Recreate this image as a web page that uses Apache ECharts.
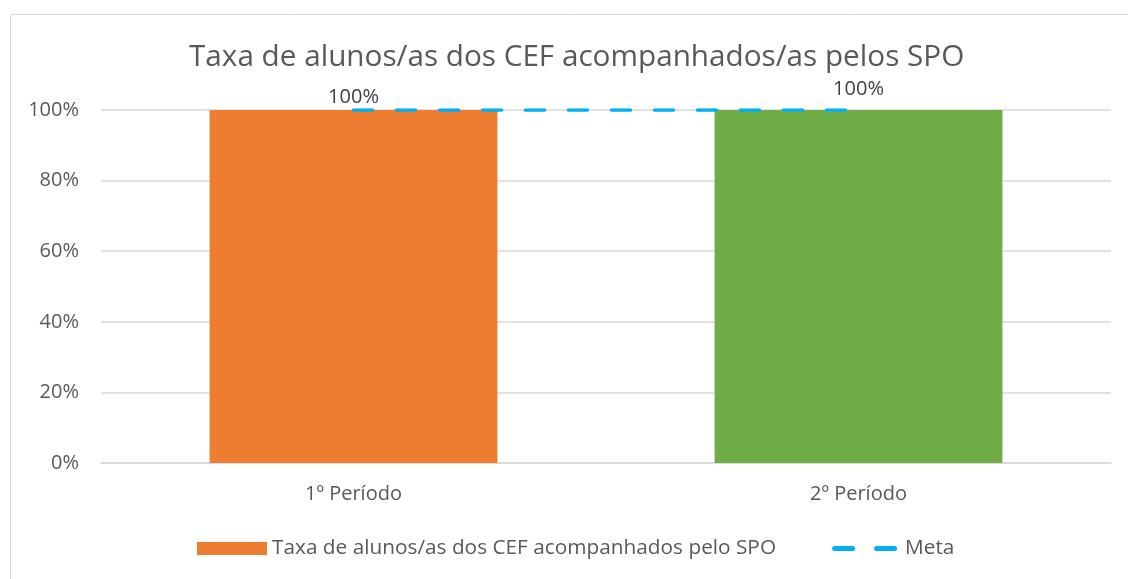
<!DOCTYPE html>
<html>
<head>
<meta charset="utf-8">
<script src="https://cdn.jsdelivr.net/npm/echarts@6/dist/echarts.min.js"></script>
<style>
  html, body { margin: 0; padding: 0; background: #fff; }
  #chart { width: 1128px; height: 579px; }
</style>
</head>
<body>
<div id="chart"></div>
<script>
  var categories = ['1º Período', '2º Período']
  var taxaValues = [100, 100]
  var metaValues = [100, 100]
  var yTicks = [0, 20, 40, 60, 80, 100]
  var barColors = ['#ED7D31', '#70AD47']

  var font = 'Open Sans'
  var textColor = '#595959'
  var metaColor = '#00B0F0'

  // two short dashes, with tiny corner marks so the icon box stays 70x13
  var metaIcon = 'path://M0,0h0.1v0.1h-0.1z M69.9,12.9h0.1v0.1h-0.1z' +
    'M4.5,4h18a2.5,2.5 0 0 1 0,5h-18a2.5,2.5 0 0 1 0,-5z' +
    'M46.5,4h18a2.5,2.5 0 0 1 0,5h-18a2.5,2.5 0 0 1 0,-5z'

  var chart = echarts.init(document.getElementById('chart'))

  var option = {
    animation: false,
    textStyle: { fontFamily: font },
    graphic: [{
      type: 'rect',
      shape: { x: 10.5, y: 14.5, width: 1130, height: 600 },
      style: { fill: 'none', stroke: '#d9d9d9', lineWidth: 1 },
      silent: true
    }],
    title: {
      text: 'Taxa de alunos/as dos CEF acompanhados/as pelos SPO',
      left: 184,
      top: 38,
      textStyle: { fontFamily: font, fontSize: 29.7, fontWeight: 'normal', color: textColor }
    },
    legend: {
      bottom: 15,
      left: 192,
      itemWidth: 70,
      itemHeight: 13,
      itemGap: 54,
      textStyle: { fontFamily: font, fontSize: 20.8, color: textColor },
      data: [
        { name: 'Taxa de alunos/as dos CEF acompanhados pelo SPO', icon: 'rect' },
        { name: 'Meta', icon: metaIcon, itemStyle: { color: metaColor } }
      ]
    },
    grid: { left: 101, right: 17, top: 110, bottom: 116 },
    xAxis: {
      type: 'category',
      data: categories,
      axisTick: { show: false },
      axisLine: { lineStyle: { color: '#d9d9d9', width: 1.5 } },
      axisLabel: { color: textColor, fontSize: 20, margin: 21, fontFamily: font }
    },
    yAxis: {
      type: 'value',
      min: yTicks[0],
      max: yTicks[yTicks.length - 1],
      interval: 20,
      axisLabel: { color: textColor, fontSize: 20, margin: 22, formatter: '{value}%', fontFamily: font },
      splitLine: { lineStyle: { color: '#d9d9d9', width: 1.5 } },
      axisLine: { show: false },
      axisTick: { show: false }
    },
    series: [
      {
        name: 'Taxa de alunos/as dos CEF acompanhados pelo SPO',
        type: 'bar',
        barWidth: '57%',
        itemStyle: { color: barColors[0] },
        data: taxaValues.map(function (v, i) {
          return {
            value: v,
            itemStyle: { color: barColors[i] },
            label: { distance: i === 0 ? 3 : 11 }
          }
        }),
        label: {
          show: true,
          position: 'top',
          formatter: '{c}%',
          color: '#404040',
          fontSize: 20,
          fontFamily: font
        }
      },
      {
        name: 'Meta',
        type: 'line',
        data: metaValues,
        symbol: 'none',
        z: 3,
        itemStyle: { color: metaColor },
        lineStyle: { color: metaColor, width: 3.5, type: [19, 24], cap: 'round' }
      }
    ]
  }

  chart.setOption(option)
</script>
</body>
</html>
